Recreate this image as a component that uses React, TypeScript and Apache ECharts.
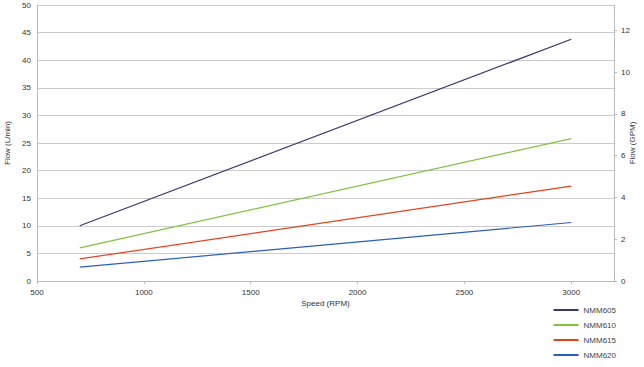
import React, { useEffect, useRef } from "react";
import * as echarts from "echarts";

const seriesNames = ["NMM605", "NMM610", "NMM615", "NMM620"];
const speeds = [700, 3000];
const flowNMM605 = [10, 43.8];
const flowNMM610 = [6, 25.8];
const flowNMM615 = [4, 17.2];
const flowNMM620 = [2.5, 10.6];
const colors = ["#3b3670", "#80c342", "#e8401c", "#2a5cbf"];

const LPM_MAX = 50;
const GPM_PER_LPM = 0.264172;

export default function App() {
  const ref = useRef<HTMLDivElement>(null);
  useEffect(() => {
    if (!ref.current) return;
    const chart = echarts.init(ref.current, undefined, { renderer: "svg" });
    const flows = [flowNMM605, flowNMM610, flowNMM615, flowNMM620];
    const font = { fontFamily: "Liberation Sans", fontSize: 8, color: "#333" };
    chart.setOption({
      animation: false,
      textStyle: { fontFamily: "Liberation Sans" },
      grid: { left: 37, right: 30, top: 5, bottom: 86, containLabel: false, outerBoundsMode: "none" },
      legend: {
        orient: "vertical",
        right: 23,
        top: 301,
        itemWidth: 25,
        itemHeight: 2,
        itemGap: 7,
        icon: "rect",
        textStyle: { ...font, color: "#444" },
        data: seriesNames,
      },
      xAxis: {
        type: "value",
        min: 500,
        max: 3200,
        interval: 500,
        name: "Speed (RPM)",
        nameLocation: "middle",
        nameGap: 18,
        nameMoveOverlap: false,
        nameTextStyle: font,
        axisLine: { lineStyle: { color: "#bbb" } },
        axisTick: { show: true, length: 3, lineStyle: { color: "#bbb" } },
        axisLabel: { ...font, showMaxLabel: false, margin: 7, formatter: (v: number) => String(v) },
        splitLine: { show: false },
      },
      yAxis: [
        {
          type: "value",
          min: 0,
          max: LPM_MAX,
          interval: 5,
          name: "Flow (L/min)",
          nameLocation: "middle",
          nameGap: 26,
          nameMoveOverlap: false,
          nameTextStyle: font,
          axisLine: { show: true, lineStyle: { color: "#bbb" } },
          axisTick: { show: false },
          axisLabel: { ...font, margin: 6 },
          splitLine: { lineStyle: { color: "#ccc" } },
        },
        {
          type: "value",
          min: 0,
          max: LPM_MAX * GPM_PER_LPM,
          interval: 2,
          name: "Flow (GPM)",
          nameLocation: "middle",
          nameRotate: 90,
          nameGap: 14,
          nameMoveOverlap: false,
          nameTextStyle: font,
          axisLine: { show: true, lineStyle: { color: "#bbb" } },
          axisTick: { show: true, length: 3, lineStyle: { color: "#bbb" } },
          axisLabel: { ...font, showMaxLabel: false, margin: 7 },
          splitLine: { show: false },
        },
      ],
      series: seriesNames.map((name, i) => ({
        name,
        type: "line",
        symbol: "none",
        color: colors[i],
        lineStyle: { width: 1.2, color: colors[i] },
        data: speeds.map((s, j) => [s, flows[i][j]]),
      })),
    });
    return () => chart.dispose();
  }, []);
  return <div ref={ref} style={{ width: 644, height: 367, position: "absolute", left: 0, top: 0 }} />;
}
